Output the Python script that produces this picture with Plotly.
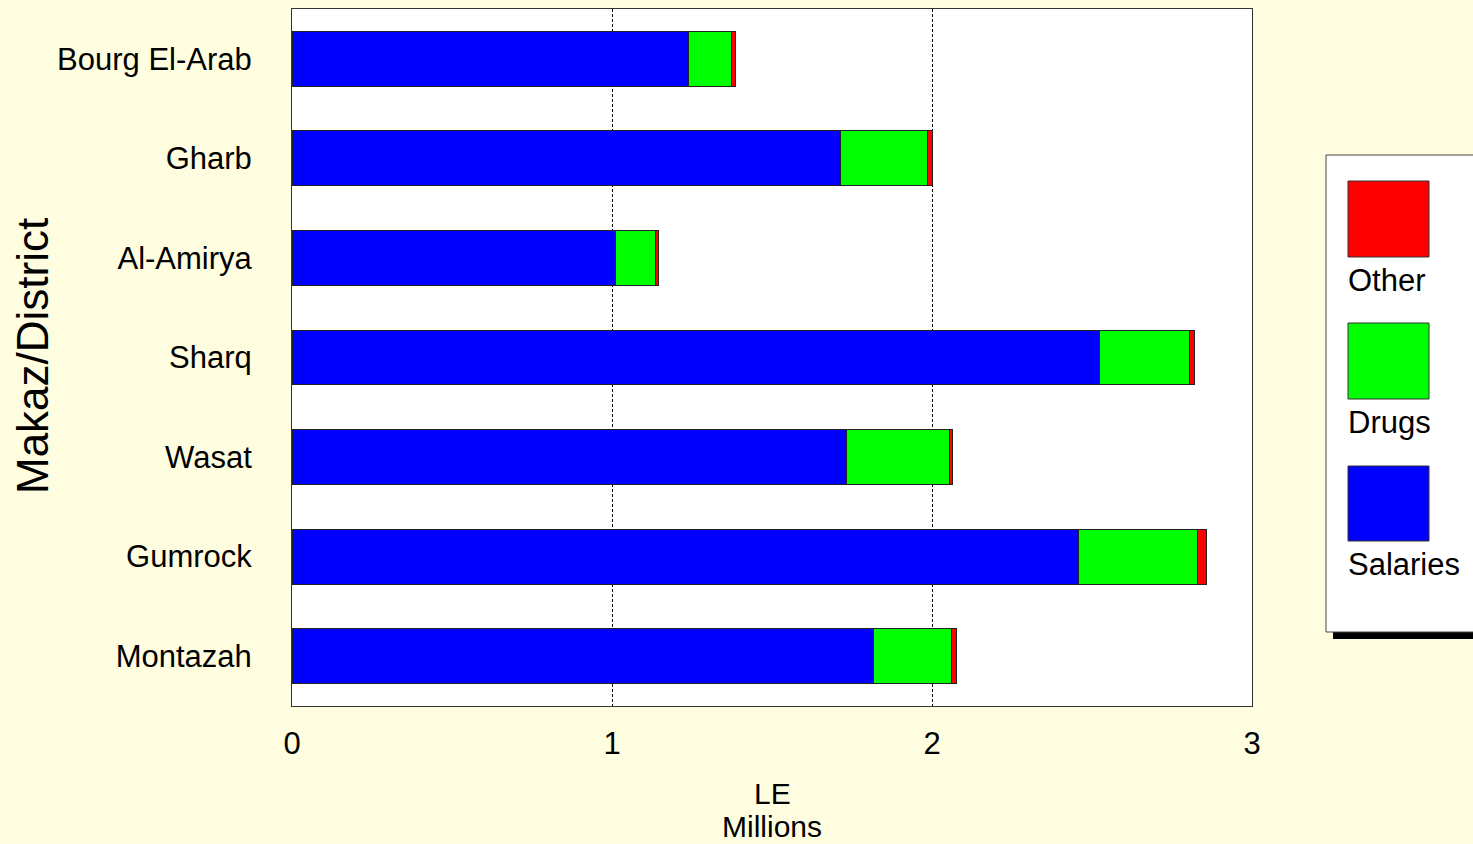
import plotly.graph_objects as go

districts = ["Montazah", "Gumrock", "Wasat", "Sharq", "Al-Amirya", "Gharb", "Bourg El-Arab"]
salaries = [1.818, 2.459, 1.732, 2.524, 1.012, 1.713, 1.240]
drugs = [0.244, 0.370, 0.322, 0.281, 0.124, 0.274, 0.133]
other = [0.015, 0.028, 0.009, 0.016, 0.009, 0.014, 0.014]
series_names = ["Salaries", "Drugs", "Other"]
series_colors = ["#0000FF", "#00FF00", "#FF0000"]
x_ticks = [0, 1, 2, 3]

FONT = "Liberation Sans, Arial, sans-serif"
BG = "#FFFDDF"
FS = 31

fig = go.Figure()
for name, vals, col in zip(series_names, [salaries, drugs, other], series_colors):
    fig.add_trace(go.Bar(
        y=districts, x=vals, name=name, orientation="h",
        marker=dict(color=col, line=dict(color="#222222", width=1)),
        width=0.55, showlegend=False,
    ))

fig.update_layout(
    barmode="stack",
    width=1473, height=844,
    margin=dict(l=292, r=221, t=9, b=138),
    paper_bgcolor=BG, plot_bgcolor="white",
    font=dict(family=FONT, size=FS, color="black"),
)
fig.update_xaxes(
    range=[0, 3], tickvals=x_ticks, ticktext=[str(t) for t in x_ticks],
    showgrid=True, gridcolor="black", gridwidth=1, griddash="3px,2px",
    showline=True, linecolor="#333333", linewidth=1, mirror=True,
    ticks="", ticklabelstandoff=10, zeroline=False,
    tickfont=dict(size=FS, family=FONT),
)
fig.update_yaxes(
    range=[-0.5, 6.5], categoryorder="array", categoryarray=districts,
    showline=True, linecolor="#333333", linewidth=1, mirror=True,
    ticks="", ticklabelstandoff=33, showgrid=False,
    tickfont=dict(size=FS, family=FONT),
)

def px_x(px):
    return (px - 292) / 960.0

def px_y(py):
    return (706 - py) / 697.0

shapes = []
shapes.append(dict(type="rect", xref="paper", yref="paper",
                   x0=px_x(1333), x1=px_x(1490), y0=px_y(639), y1=px_y(626),
                   fillcolor="black", line=dict(width=0), layer="above"))
shapes.append(dict(type="rect", xref="paper", yref="paper",
                   x0=px_x(1326), x1=px_x(1490), y0=px_y(632), y1=px_y(155),
                   fillcolor="white", line=dict(color="#444444", width=1), layer="above"))
legend_items = [("Other", "#FF0000", 181, 257, 280),
                ("Drugs", "#00FF00", 323, 399, 422),
                ("Salaries", "#0000FF", 466, 541, 564)]
annotations = []
for label, col, top, bot, ty in legend_items:
    shapes.append(dict(type="rect", xref="paper", yref="paper",
                       x0=px_x(1348), x1=px_x(1429), y0=px_y(bot), y1=px_y(top),
                       fillcolor=col, line=dict(color="#333333", width=1), layer="above"))
    annotations.append(dict(text=label, xref="paper", yref="paper",
                            x=px_x(1346), y=px_y(ty), xanchor="left", yanchor="middle",
                            showarrow=False, font=dict(size=FS, family=FONT)))

annotations.append(dict(text="Makaz/District", xref="paper", yref="paper",
                        x=px_x(33), y=px_y(356), textangle=-90, showarrow=False,
                        xanchor="center", yanchor="middle", font=dict(size=44, family=FONT)))
annotations.append(dict(text="LE", xref="paper", yref="paper",
                        x=px_x(772), y=px_y(793), showarrow=False,
                        xanchor="center", yanchor="middle", font=dict(size=30, family=FONT)))
annotations.append(dict(text="Millions", xref="paper", yref="paper",
                        x=px_x(772), y=px_y(826), showarrow=False,
                        xanchor="center", yanchor="middle", font=dict(size=30, family=FONT)))

fig.update_layout(shapes=shapes, annotations=annotations)
fig.write_html("out.html", config={"displayModeBar": False},
               post_script="document.body.style.margin='0';document.body.style.overflow='hidden';document.body.style.background='" + BG + "';")
